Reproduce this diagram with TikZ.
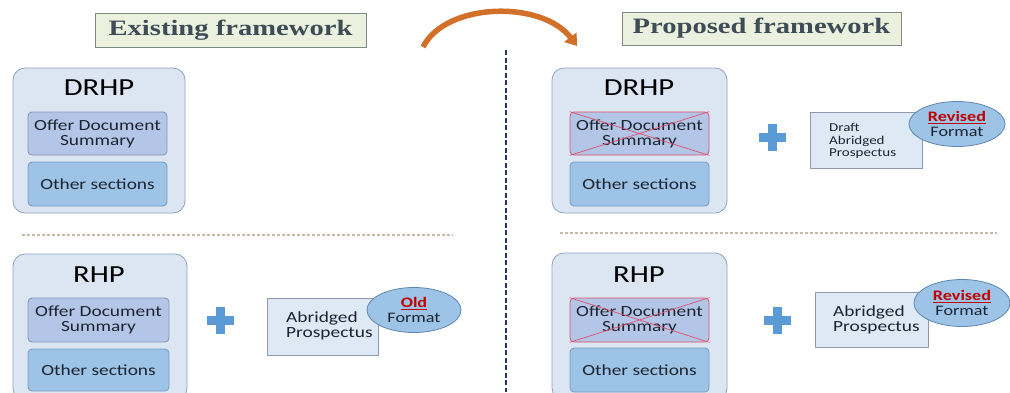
\documentclass[tikz,border=0pt]{standalone}
\usepackage{fontspec}
\setmainfont{Carlito}[FakeStretch=1.25]
\newfontfamily\titlefont{Liberation Serif}[FakeStretch=1.3]
\usetikzlibrary{shapes.geometric,arrows.meta}
\definecolor{outerfill}{HTML}{DCE6F3}
\definecolor{outerdraw}{HTML}{8EA3BE}
\definecolor{odsfill}{HTML}{B4C6E7}
\definecolor{odsdraw}{HTML}{8292B4}
\definecolor{othfill}{HTML}{9DC3E6}
\definecolor{othdraw}{HTML}{7A9AC0}
\definecolor{abfill}{HTML}{DEE9F6}
\definecolor{abdraw}{HTML}{8C9AAC}
\definecolor{ellfill}{HTML}{9DC3E6}
\definecolor{elldraw}{HTML}{5F86B2}
\definecolor{plusc}{HTML}{5B9BD5}
\definecolor{titlefill}{HTML}{EBF1DE}
\definecolor{titledraw}{HTML}{7F8A7F}
\definecolor{titletext}{HTML}{3E4C58}
\definecolor{navy}{HTML}{1F3864}
\definecolor{dotc}{HTML}{C8B8A8}
\definecolor{redc}{HTML}{C00000}
\definecolor{crossc}{HTML}{E0506A}
\definecolor{txt}{HTML}{1C2430}
\definecolor{arrowc}{HTML}{D2702A}
\tikzset{
  outerbox/.style={draw=outerdraw, fill=outerfill, line width=0.8pt, rounded corners=12pt, inner sep=0pt},
  odsbox/.style={draw=odsdraw, fill=odsfill, line width=0.8pt, rounded corners=4pt, inner sep=0pt, align=center, font=\fontsize{15.5}{15}\selectfont, text=txt},
  odsx/.style={odsbox, draw=crossc},
  othbox/.style={draw=othdraw, fill=othfill, line width=0.8pt, rounded corners=4pt, inner sep=0pt, align=center, font=\fontsize{15.5}{15}\selectfont, text=txt},
  biglabel/.style={font=\fontsize{24.5}{26}\selectfont, text=black, inner sep=0pt},
  abbox/.style={draw=abdraw, fill=abfill, line width=0.8pt, inner sep=0pt},
  abtext/.style={align=left, inner sep=0pt, text=txt},
  fmt/.style={ellipse, draw=elldraw, fill=ellfill, line width=0.8pt, inner sep=0pt, align=center, font=\fontsize{14.5}{15}\selectfont, text=txt},
  titlebox/.style={draw=titledraw, fill=titlefill, line width=0.8pt, inner sep=0pt, font=\titlefont\bfseries\fontsize{22}{24}\selectfont, text=titletext},
  crossline/.style={draw=crossc, line width=0.7pt},
  plusarm/.style={fill=plusc},
  dotline/.style={draw=dotc, line width=1.2pt, dash pattern=on 3pt off 2pt},
  vdash/.style={draw=navy, line width=2.6pt, dash pattern=on 5pt off 2.5pt},
}
\newcommand{\plussign}[2]{\fill[plusarm] (#1-13.5,#2-4.5) rectangle (#1+13.5,#2+4.5); \fill[plusarm] (#1-4.5,#2-13.5) rectangle (#1+4.5,#2+13.5);}
\begin{document}
\begin{tikzpicture}[x=1pt,y=-1pt]
\useasboundingbox (0,0) rectangle (1010,392);
\fill[white] (0,0) rectangle (1010,392);

% titles
\node[titlebox, minimum width=271pt, minimum height=34pt] (t1) at (230.5,30) {Existing framework};
\node[titlebox, minimum width=279pt, minimum height=33pt] (t2) at (761.5,28.5) {Proposed framework};

% curved arrow
\coordinate (a1) at (423,47);
\coordinate (a2) at (577,46);
\draw[arrowc, line width=5.5pt, -{Triangle[length=11pt,width=15pt]}] (a1) .. controls (446,2) and (542,0) .. (a2);

% separators
\coordinate (v1) at (506,50);
\coordinate (v2) at (506,392);
\draw[vdash] (v1) -- (v2);
\coordinate (h1) at (22,235);
\coordinate (h2) at (453,235);
\draw[dotline] (h1) -- (h2);
\coordinate (h3) at (560,233);
\coordinate (h4) at (997,233);
\draw[dotline] (h3) -- (h4);

% ---------- Existing DRHP ----------
\node[outerbox, minimum width=172pt, minimum height=145pt] (d1) at (99,140.5) {};
\node[biglabel] (d1l) at (99,88) {DRHP};
\node[odsbox, minimum width=139pt, minimum height=43pt] (d1o) at (97.5,133.5) {Offer Document\\Summary};
\node[othbox, minimum width=139pt, minimum height=44pt] (d1s) at (97.5,184) {Other sections};

% ---------- Existing RHP ----------
\node[outerbox, minimum width=174pt, minimum height=146pt] (r1) at (100,327) {};
\node[biglabel] (r1l) at (99,275) {RHP};
\node[odsbox, minimum width=141pt, minimum height=44pt] (r1o) at (98.5,320) {Offer Document\\Summary};
\node[othbox, minimum width=141pt, minimum height=42pt] (r1s) at (98.5,370) {Other sections};
\plussign{220}{320}
\node[abbox, minimum width=111pt, minimum height=57pt] (r1a) at (322.5,326.5) {};
\node[abtext, anchor=west, font=\fontsize{15.5}{15}\selectfont] (r1at) at (286,326) {Abridged\\Prospectus};
\node[fmt, minimum width=94pt, minimum height=45pt] (r1e) at (414,310) {\textcolor{redc}{\bfseries\underline{Old}}\\Format};

% ---------- Proposed DRHP ----------
\node[outerbox, minimum width=175pt, minimum height=145pt] (d2) at (639.5,140.5) {};
\node[biglabel] (d2l) at (639,88) {DRHP};
\node[odsx, minimum width=139pt, minimum height=43pt] (d2o) at (639.5,133.5) {Offer Document\\Summary};
\draw[crossline] (d2o.north west) -- (d2o.south east) (d2o.north east) -- (d2o.south west);
\node[othbox, minimum width=139pt, minimum height=44pt] (d2s) at (639.5,184) {Other sections};
\plussign{772}{137}
\node[abbox, minimum width=112pt, minimum height=56pt] (d2a) at (866,140) {};
\node[abtext, anchor=west, font=\fontsize{12}{12.5}\selectfont] (d2at) at (829,141) {Draft\\Abridged\\Prospectus};
\node[fmt, minimum width=96pt, minimum height=45pt] (d2e) at (957,124) {\textcolor{redc}{\bfseries\underline{Revised}}\\Format};

% ---------- Proposed RHP ----------
\node[outerbox, minimum width=175pt, minimum height=147pt] (r2) at (639.5,326.5) {};
\node[biglabel] (r2l) at (639,275) {RHP};
\node[odsx, minimum width=139pt, minimum height=44pt] (r2o) at (639.5,320) {Offer Document\\Summary};
\draw[crossline] (r2o.north west) -- (r2o.south east) (r2o.north east) -- (r2o.south west);
\node[othbox, minimum width=139pt, minimum height=44pt] (r2s) at (639.5,370) {Other sections};
\plussign{777}{320}
\node[abbox, minimum width=113pt, minimum height=55pt] (r2a) at (871.5,319.5) {};
\node[abtext, anchor=west, font=\fontsize{15.5}{15}\selectfont] (r2at) at (833,320) {Abridged\\Prospectus};
\node[fmt, minimum width=96pt, minimum height=47pt] (r2e) at (962,303) {\textcolor{redc}{\bfseries\underline{Revised}}\\Format};
\end{tikzpicture}
\end{document}
